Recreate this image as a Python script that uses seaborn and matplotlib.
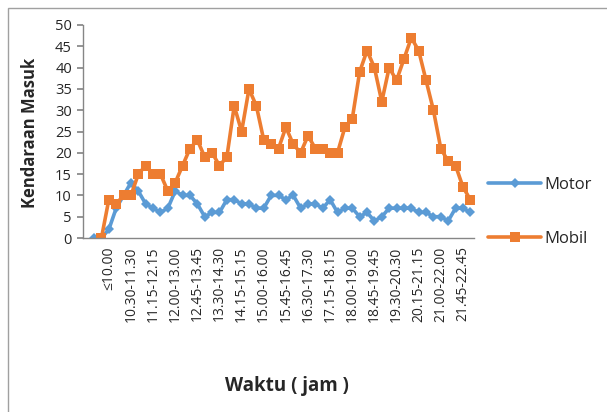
import numpy as np
import pandas as pd
import matplotlib
matplotlib.use("Agg")
import matplotlib.pyplot as plt
import seaborn as sns
from matplotlib.patches import Rectangle

sns.set_theme(style="white")
plt.rcParams['font.family'] = ['Open Sans', 'DejaVu Sans']

# data (category index 0..52); NaN = no value
motor = [np.nan, 0, 0, 2, 7, 10, 13, 11, 8, 7, 6, 7, 11, 10, 10, 8, 5, 6, 6, 9, 9,
         8, 8, 7, 7, 10, 10, 9, 10, 7, 8, 8, 7, 9, 6, 7, 7, 5, 6, 4, 5,
         7, 7, 7, 7, 6, 6, 5, 5, 4, 7, 7, 6]
mobil = [np.nan, np.nan, 0, 9, 8, 10, 10, 15, 17, 15, 15, 11, 13, 17, 21, 23, 19, 20, 17, 19,
         31, 25, 35, 31, 23, 22, 21, 26, 22, 20, 24, 21, 21, 20, 20, 26, 28, 39, 44, 40,
         32, 40, 37, 42, 47, 44, 37, 30, 21, 18, 17, 12, 9]
tick_labels = ["≤10.00", "10.30-11.30", "11.15-12.15", "12.00-13.00", "12.45-13.45",
               "13.30-14.30", "14.15-15.15", "15.00-16.00", "15.45-16.45", "16.30-17.30",
               "17.15-18.15", "18.00-19.00", "18.45-19.45", "19.30-20.30", "20.15-21.15",
               "21.00-22.00", "21.45-22.45"]
series_names = ["Motor", "Mobil"]

idx = np.arange(len(motor))
df = pd.DataFrame({"idx": np.concatenate([idx, idx]),
                   "val": np.concatenate([motor, mobil]),
                   "series": [series_names[0]] * len(idx) + [series_names[1]] * len(idx)}).dropna()

fig = plt.figure(figsize=(6.07, 4.12), dpi=100)
ax = fig.add_axes([83 / 607, 1 - 238 / 412, (474 - 83) / 607, (238 - 25) / 412])

colors = {"Motor": "#5B9BD5", "Mobil": "#ED7D31"}
sns.lineplot(data=df[df.series == "Motor"], x="idx", y="val", ax=ax, color=colors["Motor"],
             lw=2.6, marker="D", markersize=5, markeredgewidth=0, label="Motor")
sns.lineplot(data=df[df.series == "Mobil"], x="idx", y="val", ax=ax, color=colors["Mobil"],
             lw=2.6, marker="s", markersize=7, markeredgewidth=0, label="Mobil")

ax.set_xlim(-0.5, len(motor) - 0.5)
ax.set_ylim(0, 50)
ax.set_yticks(np.arange(0, 51, 5))
tick_pos = [3 + 3 * i for i in range(len(tick_labels))]
ax.set_xticks(tick_pos)
ax.set_xticklabels(tick_labels, rotation=90, fontsize=10)
ax.tick_params(axis="y", labelsize=10.5, length=4, color="#868686", direction="out", left=True, pad=4)
ax.tick_params(axis="x", length=0, pad=6)
for s in ["top", "right"]:
    ax.spines[s].set_visible(False)
for s in ["left", "bottom"]:
    ax.spines[s].set_color("#868686")
    ax.spines[s].set_linewidth(1)
ax.grid(False)
ax.set_xlabel("")
ax.set_ylabel("")

fig.text(30 / 607, 1 - 133 / 412, "Kendaraan Masuk", rotation=90, ha="center", va="center",
         fontsize=12, fontweight="bold")
fig.text(287 / 607, 1 - 386 / 412, "Waktu ( jam )", ha="center", va="center",
         fontsize=13.5, fontweight="bold")

leg = ax.legend(loc="center left", bbox_to_anchor=(473 / 607, 1 - 212 / 412),
                bbox_transform=fig.transFigure, frameon=False, fontsize=12,
                handlelength=3.2, labelspacing=2.3, handletextpad=0.2)

fig.patches.append(Rectangle((8 / 607, -0.1), 1.0, 1.1 - 8 / 412,
                             transform=fig.transFigure, fill=False, edgecolor="#A0A0A0", lw=1))

fig.savefig("out.png", dpi=100)
